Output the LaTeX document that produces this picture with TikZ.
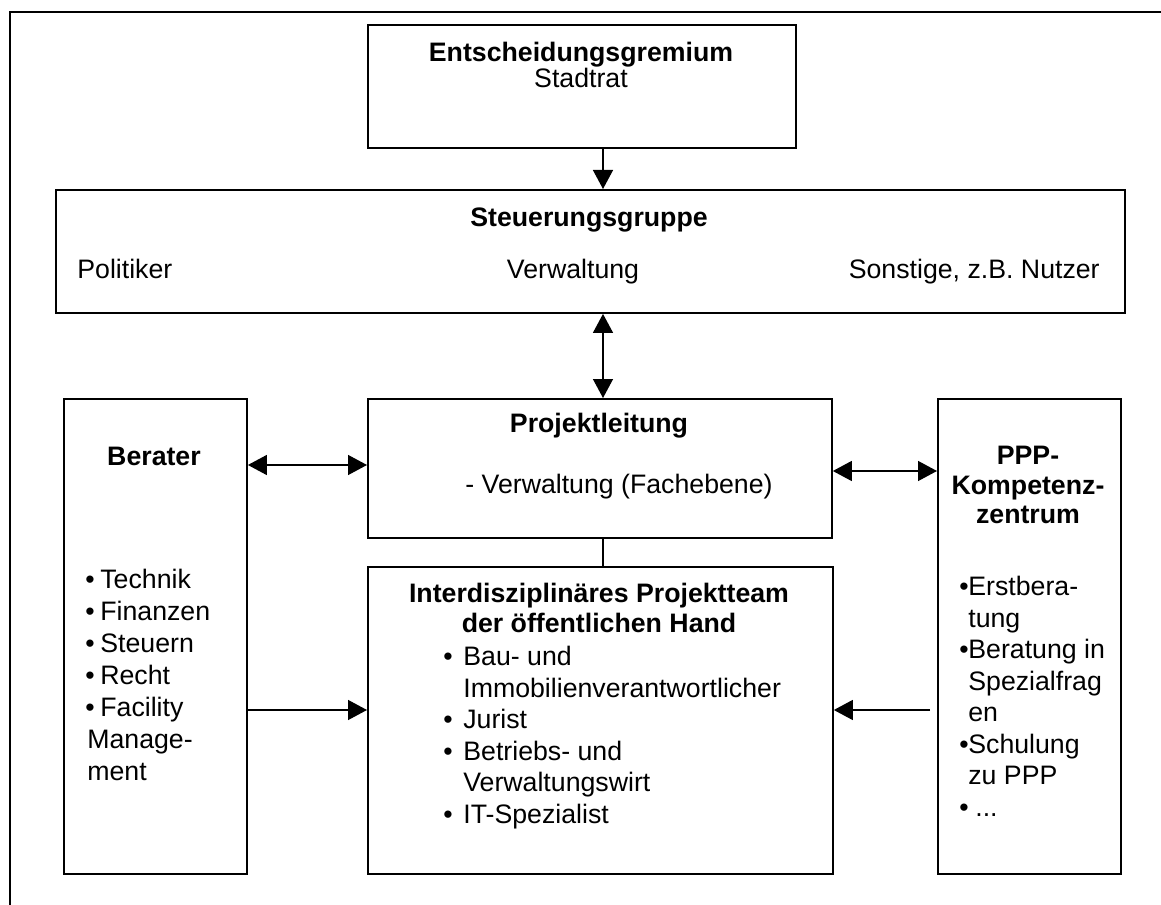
\documentclass[tikz,border=0pt]{standalone}
\usepackage{fontspec}
\setmainfont{Liberation Sans}
\usetikzlibrary{arrows.meta}

\begin{document}
\begin{tikzpicture}[x=0.02cm, y=-0.02cm,
    box/.style={draw, line width=1.1pt, inner sep=0pt, anchor=north west},
    txt/.style={inner sep=0pt, anchor=base, font=\fontsize{15.2}{17.9}\selectfont},
    title/.style={txt, font=\fontsize{15.2}{17.9}\selectfont\bfseries},
    item/.style={txt, anchor=base west},
    onearrow/.style={line width=0.8pt, -{Triangle[length=0.38cm,width=0.4cm]}},
    twoarrow/.style={line width=0.8pt, {Triangle[length=0.38cm,width=0.4cm]}-{Triangle[length=0.38cm,width=0.4cm]}}]
  \useasboundingbox (0,0) rectangle (1161,905);

  % frame, cut off at right and bottom
  \draw[line width=1.1pt] (10,905) -- (10,12) -- (1161,12);

  % boxes
  \node[box, minimum width=8.56cm, minimum height=2.46cm] (gremium) at (367,24) {};
  \node[box, minimum width=21.38cm, minimum height=2.46cm] (steuer) at (55,189) {};
  \node[box, minimum width=9.28cm, minimum height=2.78cm] (leitung) at (367,398) {};
  \node[box, minimum width=9.30cm, minimum height=6.14cm] (team) at (367,566) {};
  \node[box, minimum width=3.66cm, minimum height=9.50cm] (berater) at (63,398) {};
  \node[box, minimum width=3.66cm, minimum height=9.50cm] (ppp) at (937,398) {};

  % texts
  \node[title] (gremiumA) at (581,62) {Entscheidungsgremium};
  \node[txt] (gremiumB) at (581,88) {Stadtrat};

  \node[title] (steuerA) at (589,227) {Steuerungsgruppe};
  \node[item] (steuerB) at (77,279) {Politiker};
  \node[txt] (steuerC) at (573,279) {Verwaltung};
  \node[txt, anchor=base east] (steuerD) at (1100,279) {Sonstige, z.B. Nutzer};

  \node[title] (leitungA) at (599,433) {Projektleitung};
  \node[item] (leitungB) at (465,494) {- Verwaltung (Fachebene)};

  \node[title] (teamA) at (599,603) {Interdisziplinäres Projektteam};
  \node[title] (teamB) at (599,633) {der öffentlichen Hand};
  \foreach \t [count=\i] in {Bau- und,Immobilienverantwortlicher,Jurist,Betriebs- und,Verwaltungswirt,IT-Spezialist}
    \node[item] (team\i) at (463,634.5+31.5*\i) {\t};
  \foreach \i in {1,3,4,6}
    \node[item] (teamdot\i) at (443,634.5+31.5*\i) {\textbullet};

  \node[title] (beraterA) at (154,466) {Berater};
  \foreach \t [count=\i] in {Technik,Finanzen,Steuern,Recht,Facility}
    \node[item] (berater\i) at (100,557+32*\i) {\t};
  \foreach \i in {1,...,5}
    \node[item] (beraterdot\i) at (85,557+32*\i) {\textbullet};
  \node[item] (berater6) at (87,749) {Manage-};
  \node[item] (berater7) at (87,781) {ment};

  \node[title] (pppA) at (1028,465) {PPP-};
  \node[title] (pppB) at (1028,495) {Kompetenz-};
  \node[title] (pppC) at (1028,524) {zentrum};
  \foreach \t [count=\i] in {Erstbera-,tung,Beratung in,Spezialfrag,en,Schulung,zu PPP}
    \node[item] (ppp\i) at (968,564.5+31.5*\i) {\t};
  \node[item] (ppp8) at (975,816.5) {...};
  \foreach \i in {1,3,6,8}
    \node[item] (pppdot\i) at (959,564.5+31.5*\i) {\textbullet};

  % connectors
  \coordinate (axis) at (603,0);
  \coordinate (rowL) at (0,465);
  \coordinate (rowR) at (0,471);
  \coordinate (rowB) at (0,710);
  \draw[onearrow] (gremium.south -| axis) -- (steuer.north -| axis);
  \draw[twoarrow] (steuer.south -| axis) -- (leitung.north -| axis);
  \draw[line width=0.8pt] (leitung.south -| axis) -- (team.north -| axis);
  \draw[twoarrow] (berater.east |- rowL) -- (leitung.west |- rowL);
  \draw[twoarrow] (leitung.east |- rowR) -- (ppp.west |- rowR);
  \draw[onearrow] (berater.east |- rowB) -- (team.west |- rowB);
  \draw[onearrow, shorten <=0.14cm] (ppp.west |- rowB) -- (team.east |- rowB);
\end{tikzpicture}
\end{document}
